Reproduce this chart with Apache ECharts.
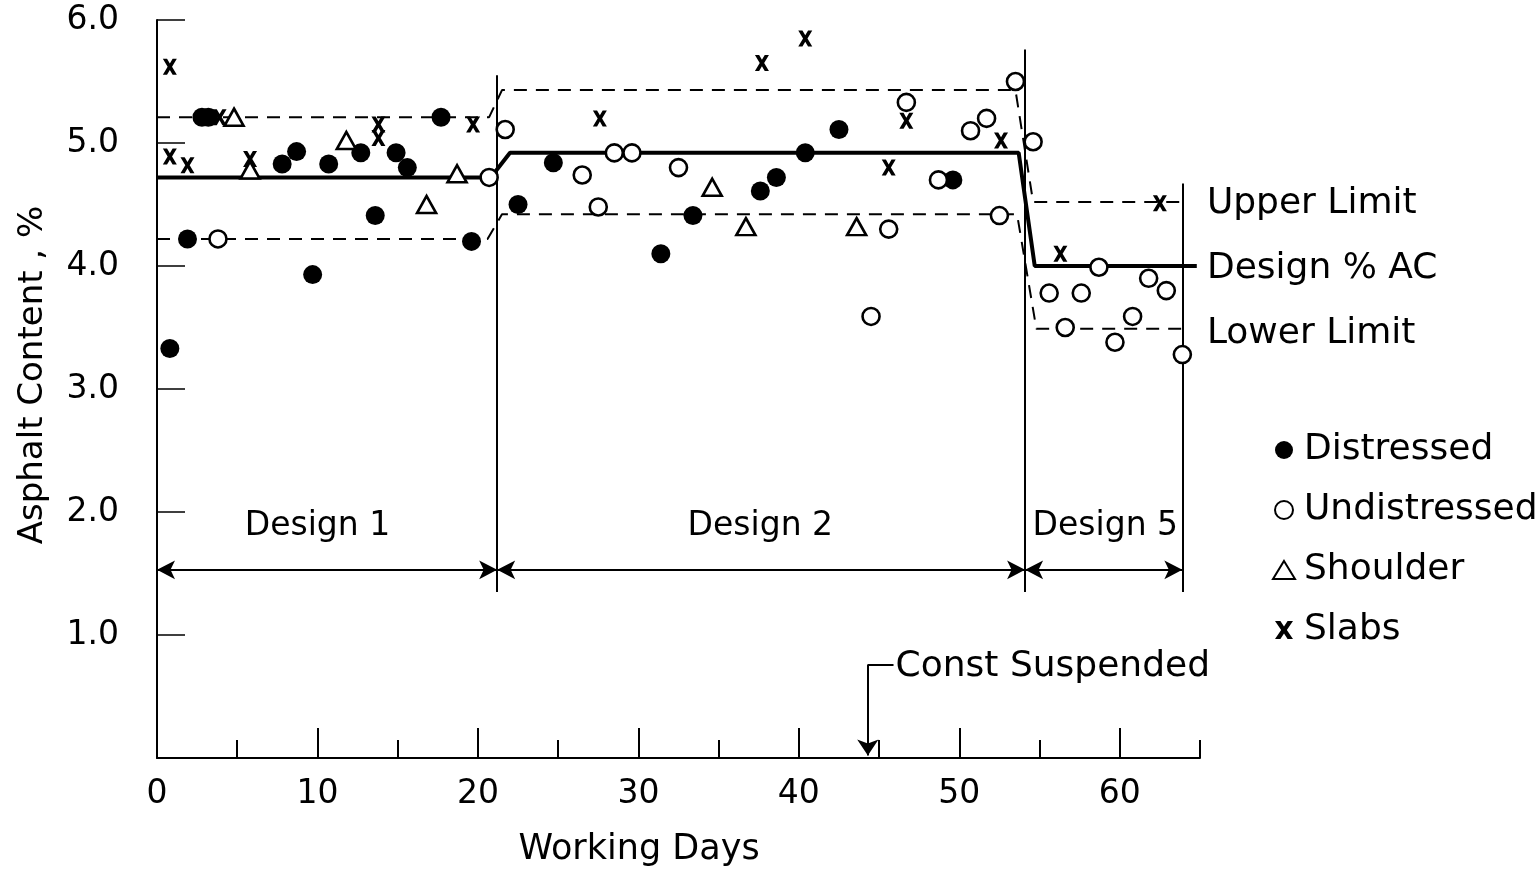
<!DOCTYPE html>
<html><head><meta charset="utf-8">
<script src="https://cdn.jsdelivr.net/npm/echarts@6.0.0/dist/echarts.min.js"></script>
<style>html,body{margin:0;padding:0;background:#fff}#c{width:1536px;height:870px}</style>
</head><body><div id="c"></div>
<script>
// ---- data ----
const xMajorTicks = [0, 10, 20, 30, 40, 50, 60];
const xMinorTicks = [5, 15, 25, 35, 45, 55, 65];
const yTicks = [0, 1, 2, 3, 4, 5, 6];

const distressed = [[0.8,3.33],[1.9,4.22],[2.8,5.21],[3.2,5.21],[7.8,4.83],[8.7,4.93],[9.7,3.93],[10.7,4.83],
  [12.7,4.92],[13.6,4.41],[14.9,4.92],[15.6,4.80],[17.7,5.21],[19.6,4.20],[22.5,4.50],[24.7,4.84],[31.4,4.10],
  [33.4,4.41],[37.6,4.61],[38.6,4.72],[40.4,4.92],[42.5,5.11],[49.6,4.70]];
const undistressed = [[3.8,4.22],[20.7,4.72],[21.7,5.11],[26.5,4.74],[27.5,4.48],[28.5,4.92],[29.6,4.92],
  [32.5,4.80],[44.5,3.59],[45.6,4.30],[46.7,5.33],[48.7,4.70],[50.7,5.10],[51.7,5.20],[52.5,4.41],[53.5,5.50],
  [54.6,5.01],[55.6,3.78],[56.6,3.50],[57.6,3.78],[58.7,3.99],[59.7,3.38],[60.8,3.59],[61.8,3.90],[62.9,3.80],[63.9,3.28]];
const shoulder = [[4.8,5.21],[5.8,4.78],[11.8,5.02],[16.8,4.50],[18.7,4.75],[34.6,4.64],[36.7,4.32],[43.6,4.32]];
const slabs = [[0.8,5.62],[0.8,4.89],[1.9,4.82],[3.9,5.21],[5.8,4.87],[13.8,5.15],[13.8,5.04],[19.7,5.15],
  [27.6,5.20],[37.7,5.65],[40.4,5.85],[45.6,4.80],[46.7,5.18],[52.6,5.02],[56.3,4.10],[62.5,4.51]];

const designLine = [[0,4.72],[20.8,4.72],[22.0,4.92],[53.7,4.92],[54.7,4.0],[64.8,4.0]];
const upperLimit = [[0,5.21],[20.7,5.21],[21.5,5.43],[53.5,5.43],[54.6,4.52],[63.9,4.52]];
const lowerLimit = [[0,4.22],[20.6,4.22],[21.5,4.42],[53.6,4.42],[54.8,3.49],[63.9,3.49]];

const separators = [[21.2,5.55,1.35],[54.1,5.76,1.35],[63.9,4.67,1.35]]; // x, top, bottom
const spanArrows = [[0,21.2],[21.2,54.1],[54.1,63.9]];
const arrowLevel = 1.53;
const designLabels = [['Design 1',10.0,1.88],['Design 2',37.6,1.88],['Design 5',59.1,1.88]];
const limitLabels = [['Upper Limit',65.4,4.51],['Design % AC',65.4,3.98],['Lower Limit',65.4,3.45]];
const suspended = {x:44.3, y:0.76, textX:46.0, textY:0.74, label:'Const Suspended'};

// ---- chart ----
const FONT = 'DejaVu Sans';
const xPath = 'path://M0,0 L3.6,0 L6,3.6 L8.4,0 L12,0 L7.9,6 L12,12 L8.4,12 L6,8.4 L3.6,12 L0,12 L4.1,6 Z';
const chart = echarts.init(document.getElementById('c'), null, {renderer:'canvas'});

const sepLines = separators.map(s => [{coord:[s[0],s[1]]},{coord:[s[0],s[2]]}]);
const arrowLines = spanArrows.map(a => [{coord:[a[0],arrowLevel]},{coord:[a[1],arrowLevel]}]);

chart.setOption({
  animation: false,
  backgroundColor: '#fff',
  grid: {left:157, top:20, right:336, bottom:112, containLabel:false},
  xAxis: [{
    type:'value', min:0, max:65, interval:10,
    axisLine:{show:true, lineStyle:{color:'#000', width:2}},
    axisTick:{show:true, inside:true, length:30, lineStyle:{color:'#000', width:2}, customValues:xMajorTicks},
    axisLabel:{color:'#000', fontSize:33, fontFamily:FONT, margin:20, customValues:xMajorTicks},
    splitLine:{show:false}
  },{
    type:'value', min:0, max:65, position:'bottom',
    axisLine:{show:false},
    axisTick:{show:true, inside:true, length:18, lineStyle:{color:'#000', width:2}, customValues:xMinorTicks},
    axisLabel:{show:false}, splitLine:{show:false}
  }],
  yAxis: {
    type:'value', min:0, max:6, interval:1,
    axisLine:{show:true, lineStyle:{color:'#000', width:2}},
    axisTick:{show:true, inside:true, length:28, lineStyle:{color:'#000', width:1.5}, customValues:yTicks.slice(1)},
    axisLabel:{color:'#000', fontSize:33, fontFamily:FONT, margin:38,
      formatter: v => v === 0 ? '' : v.toFixed(1)},
    splitLine:{show:false}
  },
  legend: {
    orient:'vertical', left:1267, top:427, itemGap:24, itemWidth:22, itemHeight:18,
    selectedMode:false,
    textStyle:{fontSize:36, color:'#000', fontFamily:FONT, padding:[0,0,0,4]},
    data:['Distressed','Undistressed','Shoulder','Slabs']
  },
  graphic: [
    {type:'text', x:33, y:375, rotation:Math.PI/2,
      style:{text:'Asphalt Content , %', font:'34px "DejaVu Sans"', fill:'#000', textAlign:'center', textVerticalAlign:'middle'}},
    {type:'text', x:639, y:850,
      style:{text:'Working Days', font:'35px "DejaVu Sans"', fill:'#000', textAlign:'center', textVerticalAlign:'middle'}}
  ],
  series: [
    {type:'line', name:'design', data:designLine, symbol:'none', silent:true,
      lineStyle:{color:'#000', width:4}, z:2},
    {type:'line', name:'upper', data:upperLimit, symbol:'none', silent:true,
      lineStyle:{color:'#000', width:2, type:[13,9]}, z:2},
    {type:'line', name:'lower', data:lowerLimit, symbol:'none', silent:true,
      lineStyle:{color:'#000', width:2, type:[13,9]}, z:2,
      markLine:{silent:true, symbol:'none', label:{show:false}, lineStyle:{color:'#000', width:2, type:'solid'},
        data: sepLines}},
    {type:'line', name:'arrows', data:[], symbol:'none', silent:true,
      markLine:{silent:true, symbol:['arrow','arrow'], symbolSize:[14,18], label:{show:false},
        lineStyle:{color:'#000', width:2, type:'solid'}, data: arrowLines}},
    {type:'line', name:'suspend', data:[], symbol:'none', silent:true,
      markLine:{silent:true, label:{show:false}, lineStyle:{color:'#000', width:2, type:'solid'},
        data:[
          [{coord:[suspended.x, suspended.y], symbol:'none'},{coord:[suspended.x, 0.02], symbol:'arrow', symbolSize:16}],
          [{coord:[suspended.x, suspended.y], symbol:'none'},{coord:[suspended.textX-0.1, suspended.y], symbol:'none'}]
        ]}},
    {type:'scatter', name:'Distressed', data:distressed, symbol:'circle', symbolSize:19,
      itemStyle:{color:'#000', opacity:1}, z:5},
    {type:'scatter', name:'Undistressed', data:undistressed, symbol:'circle', symbolSize:17,
      itemStyle:{color:'#fff', borderColor:'#000', borderWidth:2.6, opacity:1}, z:5},
    {type:'scatter', name:'Shoulder', data:shoulder, symbol:'triangle', symbolSize:[19,17],
      itemStyle:{color:'#fff', borderColor:'#000', borderWidth:2.6, opacity:1}, z:5},
    {type:'scatter', name:'Slabs', data:slabs, symbol:xPath, symbolSize:[14,16],
      itemStyle:{color:'#000', opacity:1}, z:6},
    {type:'scatter', name:'notes', silent:true, clip:false, symbolSize:1,
      itemStyle:{color:'rgba(0,0,0,0)', opacity:1},
      data: designLabels.map(d => ({name:d[0], value:[d[1], d[2]], label:{position:'inside', fontSize:33}}))
        .concat(limitLabels.map(d => ({name:d[0], value:[d[1], d[2]], label:{position:'right', distance:0}})))
        .concat([{name:suspended.label, value:[suspended.textX, suspended.textY], label:{position:'right', distance:0}}]),
      label:{show:true, formatter:'{b}', color:'#000', fontSize:36, fontFamily:FONT}, z:7}
  ]
});
</script>
</body></html>
